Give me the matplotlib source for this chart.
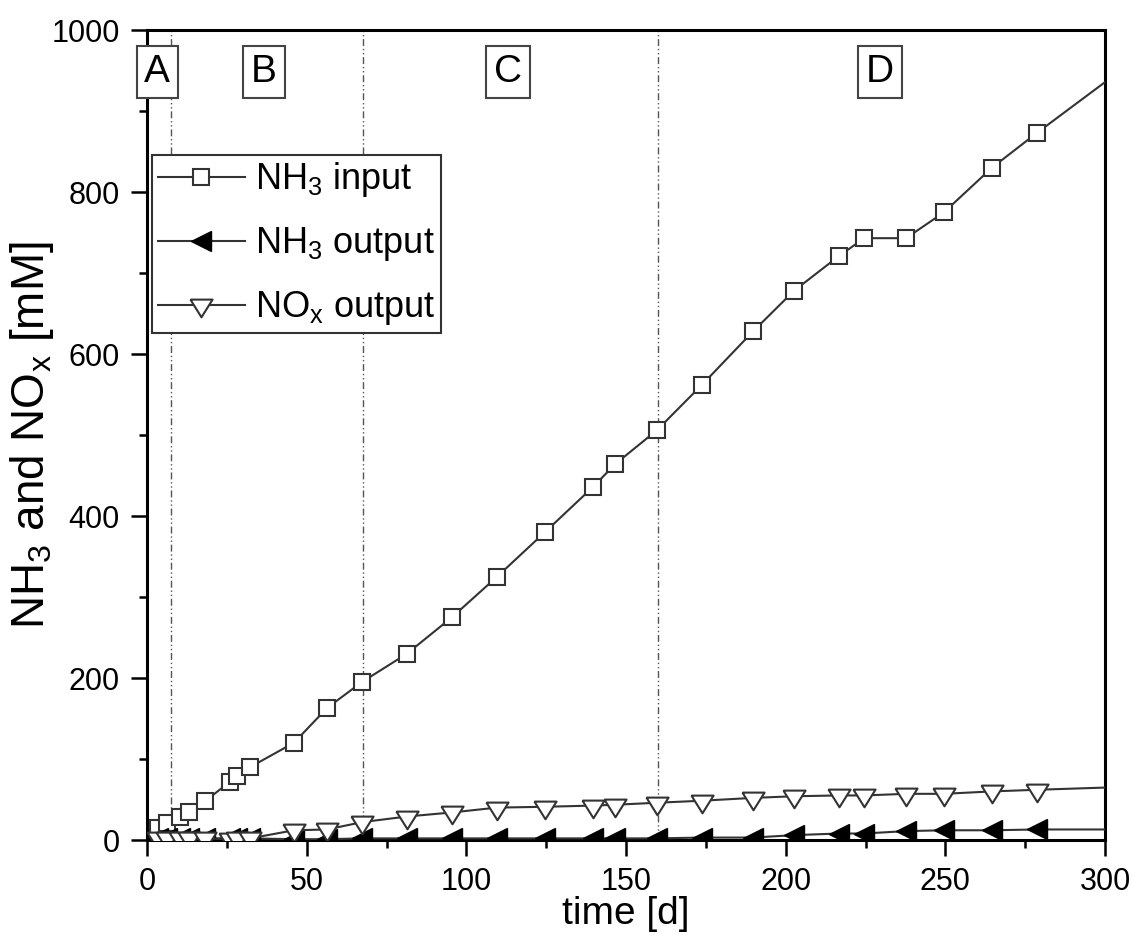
import numpy as np
import matplotlib
matplotlib.use("Agg")
import matplotlib.pyplot as plt
from matplotlib.ticker import MultipleLocator

plt.rcParams['font.family'] = ['Liberation Sans', 'DejaVu Sans']
plt.rcParams['mathtext.fontset'] = 'custom'
plt.rcParams['mathtext.rm'] = 'Liberation Sans'
plt.rcParams['mathtext.it'] = 'Liberation Sans:italic'

# sampling days (same for all three series); last point lies beyond the axis
days = [3.4, 6.3, 10.3, 13.2, 18.2, 26.0, 28.2, 32.3, 46.0, 56.4, 67.3, 81.4,
        95.5, 109.6, 124.6, 139.7, 146.6, 159.7, 173.8, 189.8, 202.6, 216.7,
        224.6, 237.7, 249.6, 264.6, 278.7, 310.0]
nh3_input = [15, 21, 28, 35, 48, 72, 79, 90, 120, 163, 195, 230, 275, 325,
             380, 436, 464, 506, 562, 628, 678, 721, 743, 743, 775, 830, 873, 965]
nh3_output = [2, 2, 2, 2, 2, 2, 2, 2, 1, 1, 2, 2, 2, 2, 2, 2, 2, 2, 3, 3,
              6, 8, 8, 11, 12, 12, 13, 13]
nox_output = [2, 2, 2, 2, 2, 1, 2, 2, 12, 13, 22, 29, 34, 40, 41, 42.5, 43.5,
              46, 48.5, 52, 54, 55, 55, 57, 57, 60, 62, 66]

phase_bounds = [7.5, 67.5, 160]
phase_names = ['A', 'B', 'C', 'D']
phase_pos = [3.2, 36.6, 113, 229.6]

fig = plt.figure(figsize=(11.33, 9.38), dpi=100)
ax = fig.add_axes([147 / 1133, 98 / 938, 958 / 1133, 810 / 938])

lc = '#333333'
# downward triangle centred on its centroid, wider than tall
tri_down = [(-1, 0.533), (1, 0.533), (0, -1.067), (-1, 0.533)]

ax.plot(days, nh3_input, color=lc, lw=1.5, marker='s', ms=11, mfc='white',
        mec=lc, mew=1.5, label=r'NH$_\mathregular{3}$ input', zorder=3)
ax.plot(days, nh3_output, color=lc, lw=1.5, marker='<', ms=14, mfc='black',
        mec='black', mew=1, label=r'NH$_\mathregular{3}$ output', zorder=3)
ax.plot(days, nox_output, color=lc, lw=1.5, marker=tri_down, ms=17, mfc='white',
        mec=lc, mew=1.5, label=r'NO$_\mathregular{x}$ output', zorder=3)

for xb in phase_bounds:
    ax.axvline(xb, color='#555555', lw=1, ls=(0, (5, 2, 1, 2, 1, 2)), zorder=1)

for name, xp in zip(phase_names, phase_pos):
    ax.text(xp, 948, name, fontsize=28, ha='center', va='center', zorder=5,
            bbox=dict(boxstyle='square,pad=0.2', fc='white', ec='#444444', lw=1.5))

ax.set_xlim(0, 300)
ax.set_ylim(0, 1000)
ax.xaxis.set_major_locator(MultipleLocator(50))
ax.xaxis.set_minor_locator(MultipleLocator(25))
ax.yaxis.set_major_locator(MultipleLocator(200))
ax.yaxis.set_minor_locator(MultipleLocator(100))
ax.tick_params(which='both', direction='out', width=1.8, top=False, right=False,
               labelsize=22)
ax.tick_params(which='major', length=11.5)
ax.tick_params(axis='x', which='major', pad=8)
ax.tick_params(axis='y', which='major', pad=8)
ax.tick_params(which='minor', length=5.5)
for sp in ax.spines.values():
    sp.set_linewidth(2.2)

ax.set_xlabel('time [d]', fontsize=28, va='center')
ax.set_ylabel(r'NH$_\mathregular{3}$ and NO$_\mathregular{x}$ [mM]', fontsize=33,
              va='center')
ax.xaxis.set_label_coords(0.5, -0.0915)
ax.yaxis.set_label_coords(-0.12, 0.5)

leg = ax.legend(loc='upper left', bbox_to_anchor=(0.0057, 0.8457), fontsize=26,
                frameon=True, fancybox=False, framealpha=1, edgecolor='#333333',
                borderaxespad=0, borderpad=0.15, handlelength=2.4,
                handletextpad=0.3, labelspacing=0.72)
leg.get_frame().set_linewidth(1.5)

fig.savefig('out.png', dpi=100)
